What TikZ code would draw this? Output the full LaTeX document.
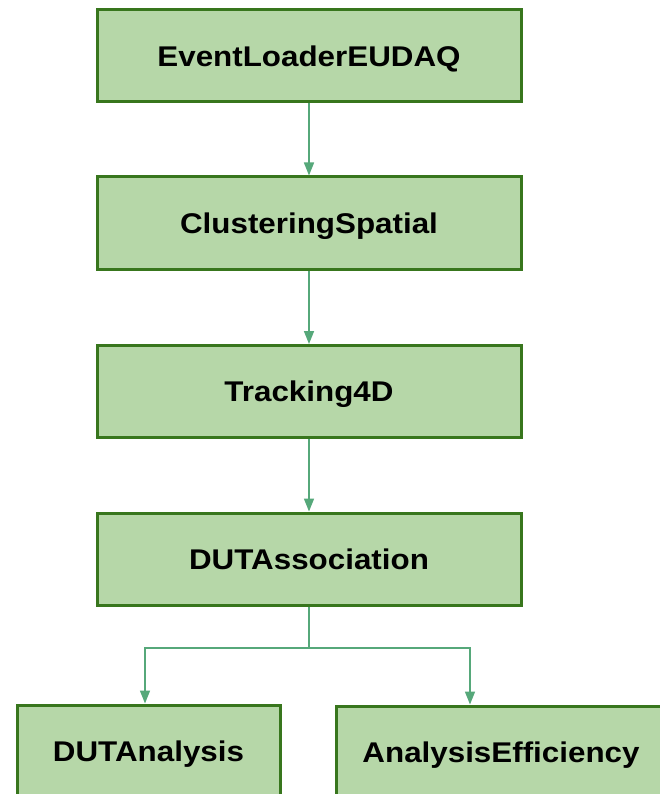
\documentclass[tikz,border=0pt]{standalone}
\usepackage{fontspec}
\setmainfont{Liberation Sans}[FakeStretch=1.1]
\usetikzlibrary{arrows.meta}
\definecolor{boxfill}{HTML}{B6D7A8}
\definecolor{boxline}{HTML}{38761D}
\definecolor{arrowcol}{HTML}{56A87A}
\begin{document}
\begin{tikzpicture}[x=1pt,y=-1pt,
  stagebox/.style={draw=boxline,fill=boxfill,line width=3pt,rectangle,
    minimum width=424pt,minimum height=92pt,inner sep=0pt,
    text height=20.5pt,text depth=0pt,
    font=\fontsize{28.5}{34}\selectfont\bfseries},
  flow/.style={draw=arrowcol,line width=1.6pt,-{Triangle[width=10pt,length=13pt]}}]
\useasboundingbox (0,0) rectangle (660,794);
\node[stagebox] (a) at (309,56) {EventLoaderEUDAQ};
\node[stagebox] (b) at (309,223) {ClusteringSpatial};
\node[stagebox] (c) at (309,391.5) {Tracking4D};
\node[stagebox] (d) at (309,559) {DUTAssociation};
\node[stagebox,minimum width=263pt] (e) at (148.5,751) {DUTAnalysis};
\node[stagebox,minimum width=330pt] (f) at (501,752) {AnalysisEfficiency};
\coordinate (split) at (309,648);
\draw[flow] (a) -- (b);
\draw[flow] (b) -- (c);
\draw[flow] (c) -- (d);
\draw[flow] (d.south) -- (split) -| ([xshift=-3.5pt]e.north);
\draw[flow] (split) -| ([xshift=-31pt]f.north);
\end{tikzpicture}
\end{document}
